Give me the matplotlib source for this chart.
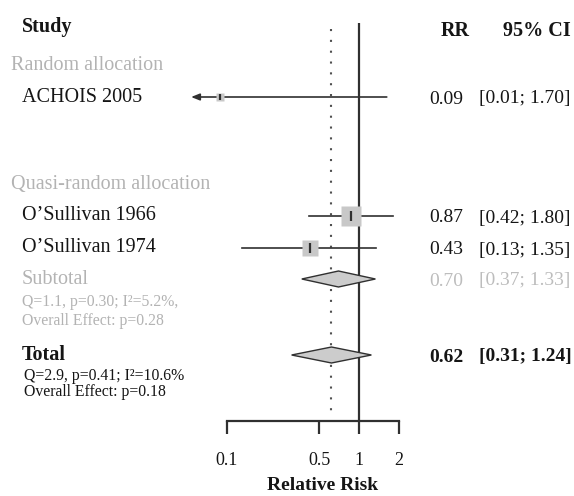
import numpy as np
import matplotlib.pyplot as plt

plt.rcParams['font.family'] = ['Liberation Serif', 'DejaVu Serif']

# study-level relative risks with 95% CI
studies = ['ACHOIS 2005', 'O\u2019Sullivan 1966', 'O\u2019Sullivan 1974']
rr = [0.09, 0.87, 0.43]
ci_lo = [0.01, 0.42, 0.13]
ci_hi = [1.70, 1.80, 1.35]

# pooled estimates
sub_rr, sub_lo, sub_hi = 0.70, 0.37, 1.33
tot_rr, tot_lo, tot_hi = 0.62, 0.31, 1.24
sub_stats = ['Q=1.1, p=0.30; I\u00b2=5.2%,', 'Overall Effect: p=0.28']
tot_stats = ['Q=2.9, p=0.41; I\u00b2=10.6%', 'Overall Effect: p=0.18']

xticks = [0.1, 0.5, 1, 2]
xtick_labels = ['0.1', '0.5', '1', '2']

# layout (pixel rows, top-down)
W, H = 574, 496
study_y = [97, 216, 248]
sub_y, tot_y = 279, 355
box_ms = [5.5, 14, 11.5]
dark = '#151515'
grey = '#b3b3b3'
line_c = '#303030'

fig = plt.figure(figsize=(W / 100, H / 100), dpi=100)

# text layer in pixel coordinates
tx = fig.add_axes([0, 0, 1, 1])
tx.set_xlim(0, W)
tx.set_ylim(H, 0)
tx.axis('off')

# forest panel: log x, y shares pixel rows
xmin, xmax = 0.05, 2.2
k = 132.5  # pixels per decade
x0 = 359 + k * np.log10(xmin)
x1 = 359 + k * np.log10(xmax)
ax_bottom = 421
ax = fig.add_axes([x0 / W, (H - ax_bottom) / H, (x1 - x0) / W, ax_bottom / H])
ax.patch.set_visible(False)
ax.set_xscale('log')
ax.set_xlim(xmin, xmax)
ax.set_ylim(ax_bottom, 0)
for s in ['top', 'left', 'right']:
    ax.spines[s].set_visible(False)
ax.spines['bottom'].set_bounds(0.1, 2)
ax.spines['bottom'].set_linewidth(1.6)
ax.spines['bottom'].set_color(line_c)
ax.set_yticks([])
ax.set_xticks(xticks)
ax.set_xticklabels(xtick_labels, fontsize=13)
ax.minorticks_off()
ax.tick_params(axis='x', length=9, width=1.6, color=line_c, pad=13,
               labelcolor=dark)

# reference lines
ax.vlines(1, 23, ax_bottom, color=line_c, lw=1.6, zorder=1)
ax.vlines(tot_rr, 29, 413, color='#505050', lw=1.5, linestyles=(0, (1, 4.2)), zorder=1)

# study estimates
for i in range(len(studies)):
    y = study_y[i]
    if ci_lo[i] < xmin:
        ax.annotate('', xy=(xmin * 1.03, y), xytext=(ci_hi[i], y),
                    arrowprops=dict(arrowstyle='-|>,head_length=0.5,head_width=0.2',
                                    color=line_c, lw=1.2))
    else:
        ax.plot([ci_lo[i], ci_hi[i]], [y, y], color=line_c, lw=1.2, zorder=2)
    ax.plot(rr[i], y, 's', ms=box_ms[i], color='#c8c8c8', mec='none', zorder=3)
    ax.plot(rr[i], y, '|', ms=box_ms[i] * 0.4 + 2, mew=1.6, color=line_c, zorder=4)


def diamond(est, lo, hi, y, h=8):
    ax.fill([lo, est, hi, est], [y, y - h, y, y + h], facecolor='#cccccc',
            edgecolor=line_c, lw=1.0, zorder=3)


diamond(sub_rr, sub_lo, sub_hi, sub_y)
diamond(tot_rr, tot_lo, tot_hi, tot_y)

# left column
fs = 14.5
small = 11.3
tx.text(22, 27, 'Study', fontsize=fs, fontweight='bold', color=dark, va='center')
tx.text(11, 66, 'Random allocation', fontsize=fs, color=grey, va='center')
tx.text(11, 185, 'Quasi-random allocation', fontsize=fs, color=grey, va='center')
for i, name in enumerate(studies):
    tx.text(22, study_y[i], name, fontsize=fs, color=dark, va='center')
tx.text(22, sub_y, 'Subtotal', fontsize=fs, color=grey, va='center')
tx.text(22, 302, sub_stats[0], fontsize=small, color=grey, va='center')
tx.text(22, 321, sub_stats[1], fontsize=small, color=grey, va='center')
tx.text(22, tot_y, 'Total', fontsize=fs, fontweight='bold', color=dark, va='center')
tx.text(24, 376, tot_stats[0], fontsize=small, color=dark, va='center')
tx.text(24, 392, tot_stats[1], fontsize=small, color=dark, va='center')

# right columns
tx.text(455, 31, 'RR', fontsize=fs, fontweight='bold', color=dark, ha='center', va='center')
tx.text(537, 31, '95% CI', fontsize=fs, fontweight='bold', color=dark, ha='center', va='center')


def ci_text(y, est, lo, hi, color, weight='normal'):
    tx.text(463, y, f'{est:.2f}', fontsize=14, color=color, fontweight=weight,
            ha='right', va='center')
    tx.text(479, y, f'[{lo:.2f}; {hi:.2f}]', fontsize=14, color=color,
            fontweight=weight, ha='left', va='center')


for i in range(len(studies)):
    ci_text(study_y[i] + 2, rr[i], ci_lo[i], ci_hi[i], dark)
ci_text(sub_y + 2, sub_rr, sub_lo, sub_hi, '#bdbdbd')
ci_text(tot_y + 2, tot_rr, tot_lo, tot_hi, dark, 'bold')

tx.text(323, 486, 'Relative Risk', fontsize=14, fontweight='bold', color=dark,
        ha='center', va='center')

fig.savefig('out.png', dpi=100)
